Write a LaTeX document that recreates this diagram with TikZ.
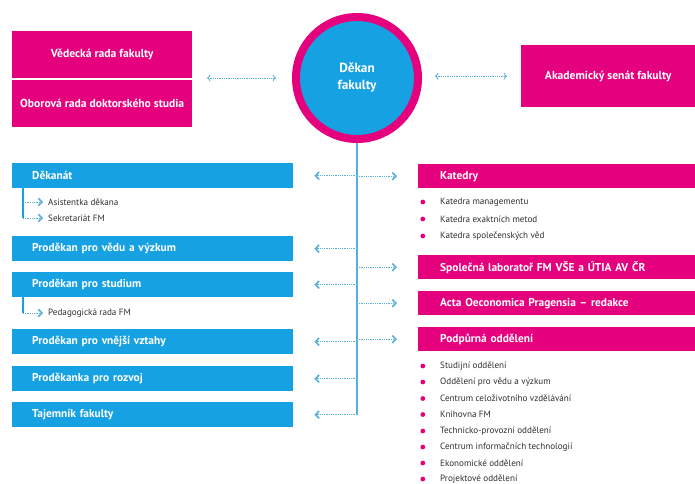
\documentclass[tikz,border=0pt]{standalone}
\usepackage{fontspec}
\setmainfont{PT Sans}
\usepackage{xcolor, tikz}
\usetikzlibrary{positioning, arrows.meta}

\definecolor{fmpink}{HTML}{E5007E}
\definecolor{fmblue}{HTML}{16A2E2}
\definecolor{fmlink}{HTML}{55B1DB}
\definecolor{fmtext}{HTML}{2E2E2E}

\tikzset{
  topbox/.style = {fill=fmpink, text=white, anchor=north west, inner sep=0pt,
                   font=\bfseries\fontsize{11.6}{13}\selectfont},
  bluebox/.style = {fill=fmblue, text=white, anchor=north west, inner xsep=20pt, inner ysep=0pt,
                    text width=241pt, minimum height=25pt, align=left,
                    font=\bfseries\fontsize{11.4}{13}\selectfont},
  pinkbox/.style = {fill=fmpink, text=white, anchor=north west, inner xsep=22pt, inner ysep=0pt,
                    text width=233pt, minimum height=24pt, align=left,
                    font=\bfseries\fontsize{11.4}{13}\selectfont},
  subitem/.style = {anchor=west, inner sep=0pt, text=fmtext, font=\fontsize{9.1}{10}\selectfont},
  bulletitem/.style = {subitem, label={[fill=fmpink, circle, inner sep=0pt, minimum size=4.8pt,
                       label distance=14.6pt]left:{}}},
  link/.style = {draw=fmlink, line width=0.8pt, dash pattern=on 0.9pt off 0.9pt,
                 -{Straight Barb[length=3.6pt, width=7.5pt, line width=1.6pt]}},
  trunk/.style = {draw=fmlink, line width=1.6pt},
  tree/.style = {draw=fmblue, line width=1.1pt}
}

\begin{document}
\begin{tikzpicture}[x=1pt, y=-1pt]
    \useasboundingbox (0,0) rectangle (695,483);

    % dekan and the top row
    \node[circle, fill=fmblue, draw=fmpink, line width=8pt, minimum size=122pt, text=white,
          align=center, font=\bfseries\fontsize{13.2}{17}\selectfont] at (357,78) (dekan) {Děkan\\fakulty};
    \node[topbox, minimum width=180pt, minimum height=47pt] at (12,31) (vedecka) {Vědecká rada fakulty};
    \node[topbox, minimum width=180pt, minimum height=47pt] at (12,80) (oborova) {Oborová rada doktorského studia};
    \node[topbox, minimum width=174pt, minimum height=62pt] at (521,45) (senat) {Akademický senát fakulty};
    \coordinate (radyeast) at (192,78);

    \draw[link, <->, shorten <=15pt, shorten >=16pt] (radyeast) -- (dekan.west |- radyeast);
    \draw[link, <->, shorten <=13pt, shorten >=14pt] (dekan.east |- senat.west) -- (senat.west);

    % left column
    \node[bluebox] at (12,163) (dekanat) {Děkanát};
    \node[subitem] at (48,202) (asist) {Asistentka děkana};
    \node[subitem] at (48,218) (sekr) {Sekretariát FM};
    \node[bluebox] at (12,236) (veda) {Proděkan pro vědu a výzkum};
    \node[bluebox] at (12,272) (studium) {Proděkan pro studium};
    \node[subitem] at (48,313) (pedrada) {Pedagogická rada FM};
    \node[bluebox] at (12,329) (vztahy) {Proděkan pro vnější vztahy};
    \node[bluebox] at (12,366) (rozvoj) {Proděkanka pro rozvoj};
    \node[bluebox] at (12,402) (tajemnik) {Tajemník fakulty};

    \coordinate (dk) at (23,188);
    \draw[tree] (dk) -- (dk |- sekr.west);
    \draw[link, shorten >=5pt] (dk |- asist.west) -- (asist.west);
    \draw[link, shorten >=5pt] (dk |- sekr.west) -- (sekr.west);
    \coordinate (st) at (23,297);
    \draw[tree] (st) -- (st |- pedrada.west);
    \draw[link, shorten >=5pt] (st |- pedrada.west) -- (pedrada.west);

    % right column
    \node[pinkbox] at (418,164) (katedry) {Katedry};
    \node[bulletitem] at (440,202) (km) {Katedra managementu};
    \node[bulletitem] at (440,219) (kem) {Katedra exaktních metod};
    \node[bulletitem] at (440,236) (ksv) {Katedra společenských věd};
    \node[pinkbox] at (418,255) (laborator) {Společná laboratoř FM VŠE a ÚTIA AV ČR};
    \node[pinkbox] at (418,291) (acta) {Acta Oeconomica Pragensia -- redakce};
    \node[pinkbox] at (418,327) (podpurna) {Podpůrná oddělení};
    \node[bulletitem] at (440,366) (o1) {Studijní oddělení};
    \node[bulletitem] at (440,382) (o2) {Oddělení pro vědu a výzkum};
    \node[bulletitem] at (440,398.5) (o3) {Centrum celoživotního vzdělávání};
    \node[bulletitem] at (440,414.5) (o4) {Knihovna FM};
    \node[bulletitem] at (440,431) (o5) {Technicko-provozní oddělení};
    \node[bulletitem] at (440,447) (o6) {Centrum informačních technologií};
    \node[bulletitem] at (440,463) (o7) {Ekonomické oddělení};
    \node[bulletitem] at (440,479) (o8) {Projektové oddělení};

    % trunk and arrows
    \coordinate (trunkend) at (357,415);
    \draw[trunk] (dekan.south) -- (trunkend);

    \draw[link, shorten >=21pt] (trunkend |- dekanat.east) -- (dekanat.east);
    \draw[link, shorten >=21pt] (trunkend |- veda.east) -- (veda.east);
    \draw[link, shorten >=21pt] (trunkend |- studium.east) -- (studium.east);
    \draw[link, shorten >=21pt] (trunkend |- vztahy.east) -- (vztahy.east);
    \draw[link, shorten >=21pt] (trunkend |- rozvoj.east) -- (rozvoj.east);
    \draw[link, shorten >=21pt] (trunkend |- tajemnik.east) -- (tajemnik.east);

    \draw[link, shorten >=21pt] (trunkend |- katedry.west) -- (katedry.west);
    \draw[link, shorten >=21pt] (trunkend |- laborator.west) -- (laborator.west);
    \draw[link, shorten >=21pt] (trunkend |- acta.west) -- (acta.west);
    \draw[link, shorten >=21pt] (trunkend |- podpurna.west) -- (podpurna.west);

\end{tikzpicture}
\end{document}
